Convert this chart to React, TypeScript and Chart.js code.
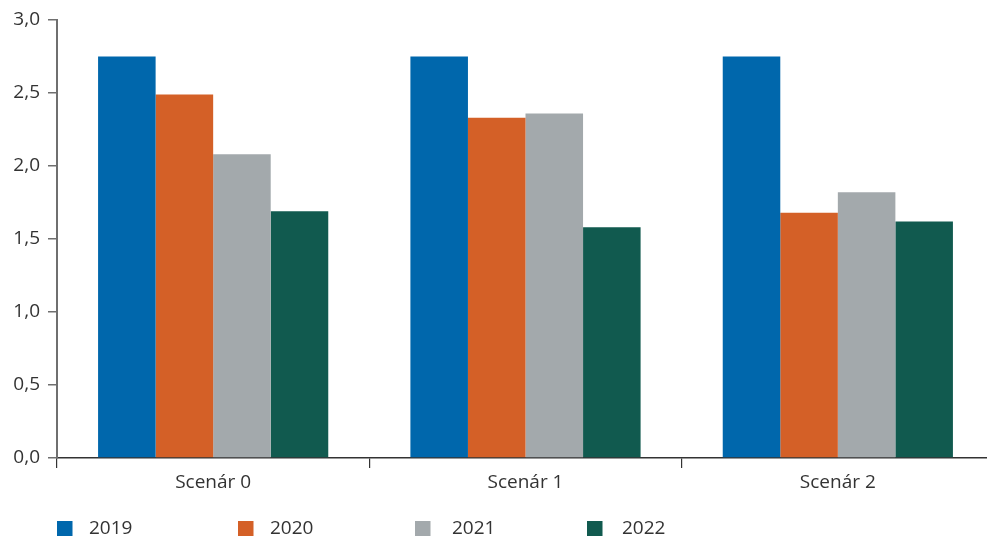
import React, { useEffect, useRef } from "react";
import { Chart, registerables } from "chart.js";

Chart.register(...registerables);

// Scenarios on the category axis
const categories = ["Scenár 0", "Scenár 1", "Scenár 2"];

// One series per year
const years = ["2019", "2020", "2021", "2022"];
const values2019 = [2.75, 2.75, 2.75];
const values2020 = [2.49, 2.33, 1.68];
const values2021 = [2.08, 2.36, 1.82];
const values2022 = [1.69, 1.58, 1.62];

const yTicks = [0, 0.5, 1, 1.5, 2, 2.5, 3];

const colors = ["#0067AC", "#D46027", "#A3A9AC", "#115A4F"];

const FONT = "'Open Sans', 'Noto Sans', sans-serif";
const TEXT = "#333333";

// Legend drawn along the bottom edge, square swatch + year label
const bottomLegend = {
  id: "bottomLegend",
  afterDraw(chart: Chart) {
    const ctx = chart.ctx;
    const swatchX = [57, 238, 415, 587];
    const labelX = [89, 270, 452, 622];
    const size = 15.5;
    const top = 521;
    ctx.save();
    ctx.font = `19px ${FONT}`;
    ctx.textBaseline = "middle";
    ctx.textAlign = "left";
    chart.data.datasets.forEach((ds, i) => {
      ctx.fillStyle = ds.backgroundColor as string;
      ctx.fillRect(swatchX[i], top, size, size);
      ctx.fillStyle = TEXT;
      ctx.fillText(String(ds.label), labelX[i], top + 7.5);
    });
    ctx.restore();
  },
};

export default function App() {
  const ref = useRef<HTMLCanvasElement>(null);

  useEffect(() => {
    if (!ref.current) return;
    const series = [values2019, values2020, values2021, values2022];
    const chart = new Chart(ref.current, {
      type: "bar",
      data: {
        labels: categories,
        datasets: years.map((y, i) => ({
          label: y,
          data: series[i],
          backgroundColor: colors[i],
          borderWidth: 0,
          categoryPercentage: 0.737,
          barPercentage: 1.0,
        })),
      },
      plugins: [bottomLegend],
      options: {
        responsive: false,
        animation: false,
        devicePixelRatio: 1,
        layout: { padding: { top: 20, right: 6, bottom: 0, left: 0 } },
        plugins: {
          legend: { display: false },
          tooltip: { enabled: false },
        },
        scales: {
          x: {
            afterFit(scale: any) {
              scale.height = 78;
            },
            grid: {
              offset: true,
              drawOnChartArea: false,
              drawTicks: true,
              tickLength: 10,
              color: "#333333",
              lineWidth: 1.2,
            },
            border: { color: "#333333", width: 1.5 },
            ticks: {
              color: TEXT,
              font: { family: FONT, size: 19 },
              padding: 3,
            },
          },
          y: {
            min: 0,
            max: 3,
            afterFit(scale: any) {
              scale.width = 57;
            },
            afterBuildTicks(scale: any) {
              scale.ticks = yTicks.map((v) => ({ value: v }));
            },
            grid: {
              drawOnChartArea: false,
              drawTicks: true,
              tickLength: 9,
              color: "#6f6f6f",
              lineWidth: 1.5,
            },
            border: { color: "#6f6f6f", width: 2 },
            ticks: {
              color: TEXT,
              font: { family: FONT, size: 19 },
              padding: 8,
              callback: (v: any) => Number(v).toFixed(1).replace(".", ","),
            },
          },
        },
      },
    });
    return () => chart.destroy();
  }, []);

  return (
    <div
      style={{
        position: "fixed",
        left: 0,
        top: 0,
        width: 987,
        height: 536,
        overflow: "hidden",
        background: "#ffffff",
      }}
    >
      <canvas ref={ref} width={1000} height={536} style={{ display: "block" }} />
    </div>
  );
}
